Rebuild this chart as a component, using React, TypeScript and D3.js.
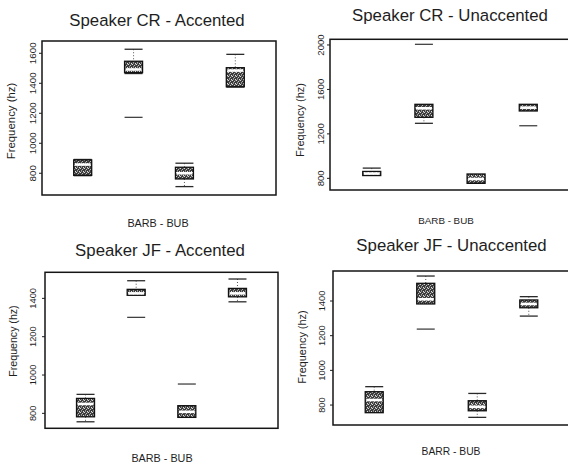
import React from "react";
import * as d3 from "d3";

// Box stats per group: [lowerWhisker, q1, median, q3, upperWhisker]
type Stat = [number, number, number, number, number];

const groups = ["g1", "g2", "g3", "g4"];

const crAccentedStats: Stat[] = [
  [784, 786, 858, 889, 892],
  [1465, 1471, 1492, 1547, 1627],
  [711, 762, 800, 840, 867],
  [1375, 1377, 1485, 1504, 1593],
];
const crAccentedOutliers: number[][] = [[], [1173], [], []];
const crAccentedTicks = [800, 1000, 1200, 1400, 1600];

const crUnaccentedStats: Stat[] = [
  [825, 825, 843, 862, 892],
  [1295, 1349, 1430, 1466, 1466],
  [755, 755, 794, 839, 839],
  [1406, 1406, 1436, 1466, 1466],
];
const crUnaccentedOutliers: number[][] = [[], [2006], [], [1273]];
const crUnaccentedTicks = [800, 1200, 1600, 2000];

const jfAccentedStats: Stat[] = [
  [756, 782, 849, 878, 899],
  [1416, 1416, 1426, 1447, 1492],
  [779, 779, 808, 840, 840],
  [1382, 1408, 1426, 1452, 1501],
];
const jfAccentedOutliers: number[][] = [[], [1301], [953], []];
const jfAccentedTicks = [800, 1000, 1200, 1400];

const jfUnaccentedStats: Stat[] = [
  [756, 756, 829, 877, 906],
  [1383, 1383, 1410, 1502, 1544],
  [729, 767, 790, 825, 867],
  [1313, 1361, 1383, 1406, 1425],
];
const jfUnaccentedOutliers: number[][] = [[], [1238], [], []];
const jfUnaccentedTicks = [800, 1000, 1200, 1400];

const titles = [
  "Speaker CR - Accented",
  "Speaker CR - Unaccented",
  "Speaker JF - Accented",
  "Speaker JF - Unaccented",
];
const xLabels = ["BARB - BUB", "BARB - BUB", "BARB - BUB", "BARR - BUB"];
const yLabel = "Frequency (hz)";

const FONT = "'Liberation Sans', Arial, Helvetica, sans-serif";

interface PanelProps {
  stats: Stat[];
  outliers: number[][];
  ticks: number[];
  domain: [number, number];
  frame: { l: number; r: number; t: number; b: number };
  title: string;
  titlePos: [number, number];
  xLabel: string;
  xLabelPos: [number, number];
  tickX: number;
  yLabelX: number;
  yLabelY: number;
  tickSize: number;
  yLabelSize: number;
  xLabelSize: number;
}

function Panel(p: PanelProps) {
  const y = d3.scaleLinear().domain(p.domain).range([p.frame.b, p.frame.t]);
  const x = d3
    .scalePoint<string>()
    .domain(groups)
    .range([p.frame.l, p.frame.r])
    .padding(0.8);
  const bw = 18;
  const cw = 18;
  const ink = "#1e1e1e";
  return (
    <g>
      <text
        x={p.titlePos[0]}
        y={p.titlePos[1]}
        textAnchor="middle"
        fontFamily={FONT}
        fontSize={16.8}
        fill={ink}
      >
        {p.title}
      </text>
      <rect
        x={p.frame.l}
        y={p.frame.t}
        width={p.frame.r - p.frame.l}
        height={p.frame.b - p.frame.t}
        fill="none"
        stroke="#151515"
        strokeWidth={1.5}
      />
      {p.ticks.map((t) => (
        <g key={t}>
          <line
            x1={p.frame.l - 3}
            x2={p.frame.l}
            y1={y(t)}
            y2={y(t)}
            stroke={ink}
            strokeWidth={1}
          />
          <text
            transform={`translate(${p.tickX},${y(t)}) rotate(-90)`}
            textAnchor="middle"
            fontFamily={FONT}
            fontSize={p.tickSize}
            fill={ink}
          >
            {t}
          </text>
        </g>
      ))}
      <text
        transform={`translate(${p.yLabelX},${p.yLabelY}) rotate(-90)`}
        textAnchor="middle"
        fontFamily={FONT}
        fontSize={p.yLabelSize}
        fill={ink}
      >
        {yLabel}
      </text>
      <text
        x={p.xLabelPos[0]}
        y={p.xLabelPos[1]}
        textAnchor="middle"
        fontFamily={FONT}
        fontSize={p.xLabelSize}
        fill={ink}
      >
        {p.xLabel}
      </text>
      {p.stats.map((s, i) => {
        const cx = x(groups[i]) as number;
        const [lo, q1, med, q3, hi] = s;
        const yTop = y(q3);
        const yBot = y(q1);
        return (
          <g key={i}>
            {hi > q3 && (
              <>
                <line
                  x1={cx}
                  x2={cx}
                  y1={y(hi)}
                  y2={yTop}
                  stroke="#555"
                  strokeWidth={1}
                  strokeDasharray="1,2"
                />
                <line
                  x1={cx - cw / 2}
                  x2={cx + cw / 2}
                  y1={y(hi)}
                  y2={y(hi)}
                  stroke="#2a2a2a"
                  strokeWidth={1.3}
                />
              </>
            )}
            {lo < q1 && (
              <>
                <line
                  x1={cx}
                  x2={cx}
                  y1={yBot}
                  y2={y(lo)}
                  stroke="#555"
                  strokeWidth={1}
                  strokeDasharray="1,2"
                />
                <line
                  x1={cx - cw / 2}
                  x2={cx + cw / 2}
                  y1={y(lo)}
                  y2={y(lo)}
                  stroke="#2a2a2a"
                  strokeWidth={1.3}
                />
              </>
            )}
            <rect
              x={cx - bw / 2}
              y={yTop}
              width={bw}
              height={Math.max(1, yBot - yTop)}
              fill="url(#stipple)"
              stroke="#111"
              strokeWidth={1.3}
            />
            <line
              x1={cx - bw / 2 + 1}
              x2={cx + bw / 2 - 1}
              y1={y(med)}
              y2={y(med)}
              stroke="#fff"
              strokeWidth={2.6}
            />
            {p.outliers[i].map((o, k) => (
              <line
                key={k}
                x1={cx - cw / 2}
                x2={cx + cw / 2}
                y1={y(o)}
                y2={y(o)}
                stroke="#333"
                strokeWidth={1.2}
              />
            ))}
          </g>
        );
      })}
    </g>
  );
}

export default function App() {
  return (
    <svg
      width={568}
      height={463}
      style={{ position: "absolute", left: 0, top: 0, background: "#fff" }}
    >
      <defs>
        <pattern id="stipple" width={4} height={4} patternUnits="userSpaceOnUse">
          <rect width={4} height={4} fill="#3c3c3c" />
          <rect x={0} y={0} width={1} height={1} fill="#d8d8d8" />
          <rect x={2} y={1} width={1} height={1} fill="#bdbdbd" />
          <rect x={1} y={2} width={1} height={1} fill="#9a9a9a" />
          <rect x={3} y={3} width={1} height={1} fill="#e0e0e0" />
          <rect x={3} y={0} width={1} height={1} fill="#777" />
          <rect x={1} y={3} width={1} height={1} fill="#888" />
        </pattern>
      </defs>
      <Panel
        stats={crAccentedStats}
        outliers={crAccentedOutliers}
        ticks={crAccentedTicks}
        domain={[655, 1682]}
        frame={{ l: 42, r: 276, t: 41, b: 195 }}
        title={titles[0]}
        titlePos={[157, 25.5]}
        xLabel={xLabels[0]}
        xLabelPos={[158, 226.5]}
        tickX={35.5}
        yLabelX={15}
        yLabelY={121}
        tickSize={9.8}
        yLabelSize={11.4}
        xLabelSize={10.8}
      />
      <Panel
        stats={crUnaccentedStats}
        outliers={crUnaccentedOutliers}
        ticks={crUnaccentedTicks}
        domain={[695, 2051]}
        frame={{ l: 330, r: 570, t: 39.3, b: 190 }}
        title={titles[1]}
        titlePos={[450, 21]}
        xLabel={xLabels[1]}
        xLabelPos={[446, 224]}
        tickX={323.5}
        yLabelX={304}
        yLabelY={120}
        tickSize={9.6}
        yLabelSize={11}
        xLabelSize={9.8}
      />
      <Panel
        stats={jfAccentedStats}
        outliers={jfAccentedOutliers}
        ticks={jfAccentedTicks}
        domain={[722, 1536]}
        frame={{ l: 45, r: 278, t: 272.3, b: 428.3 }}
        title={titles[2]}
        titlePos={[160, 256]}
        xLabel={xLabels[2]}
        xLabelPos={[162, 462]}
        tickX={36}
        yLabelX={16.5}
        yLabelY={341}
        tickSize={9.3}
        yLabelSize={10.6}
        xLabelSize={10.8}
      />
      <Panel
        stats={jfUnaccentedStats}
        outliers={jfUnaccentedOutliers}
        ticks={jfUnaccentedTicks}
        domain={[685, 1573]}
        frame={{ l: 333, r: 570, t: 271, b: 425 }}
        title={titles[3]}
        titlePos={[451.5, 251]}
        xLabel={xLabels[3]}
        xLabelPos={[451, 455]}
        tickX={325}
        yLabelX={305.5}
        yLabelY={347}
        tickSize={9.3}
        yLabelSize={10.9}
        xLabelSize={10.3}
      />
    </svg>
  );
}
